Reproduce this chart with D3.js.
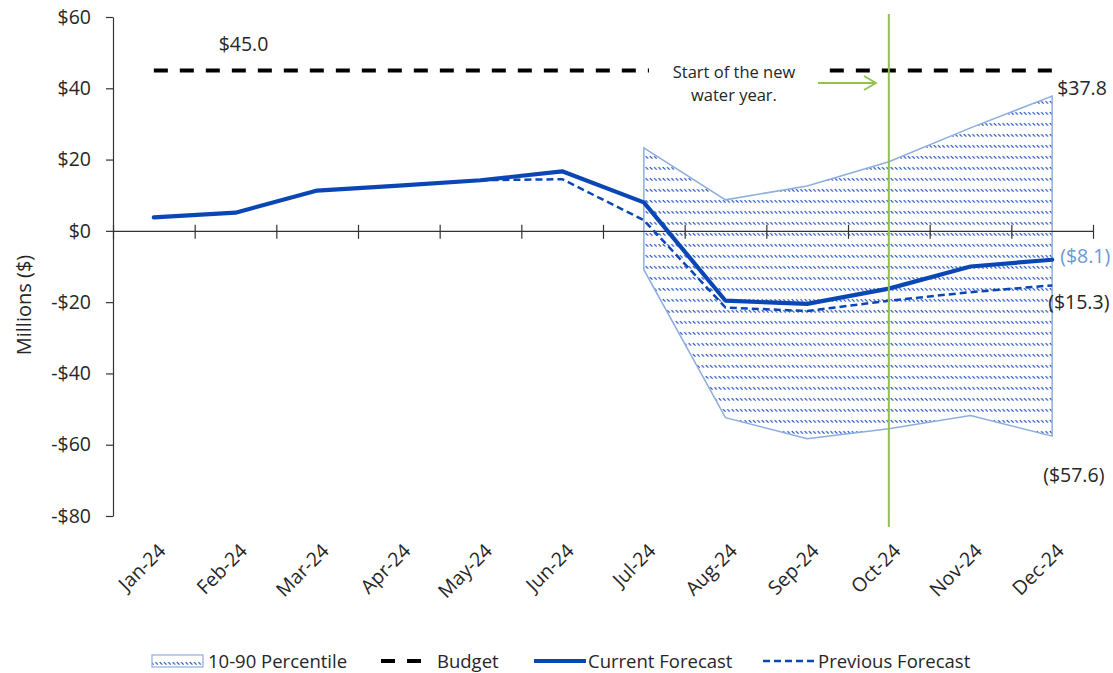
<!DOCTYPE html>
<html>
<head>
<meta charset="utf-8">
<script src="https://cdn.jsdelivr.net/npm/d3@7"></script>
<style>
  html, body { margin: 0; padding: 0; background: #fff; }
  svg text { font-family: "Open Sans", "Noto Sans", sans-serif; fill: #262626; }
</style>
</head>
<body>
<svg id="chart" width="1113" height="673"></svg>
<script>
// ---------------- data ----------------
const months = ["Jan-24","Feb-24","Mar-24","Apr-24","May-24","Jun-24","Jul-24","Aug-24","Sep-24","Oct-24","Nov-24","Dec-24"];
const currentForecast  = [3.8, 5.1, 11.3, 12.7, 14.2, 16.7, 8.0, -19.6, -20.5, -16.2, -10.0, -8.1];
const previousForecast = [3.8, 5.1, 11.3, 12.7, 14.2, 14.5, 3.0, -21.5, -22.5, -19.6, -17.2, -15.3];
const budget           = [45.0, 45.0, 45.0, 45.0, 45.0, 45.0, 45.0, 45.0, 45.0, 45.0, 45.0, 45.0];
const pct90            = [null, null, null, null, null, null, 23.3, 8.7, 12.6, 19.4, 28.9, 37.8];
const pct10            = [null, null, null, null, null, null, -10.9, -52.4, -58.3, -55.5, -51.8, -57.6];
const yTicks = [-80, -60, -40, -20, 0, 20, 40, 60];
const legendLabels = ["10-90 Percentile", "Budget", "Current Forecast", "Previous Forecast"];
const annotationLines = ["Start of the new", "water year."];
const yTitle = "Millions ($)";

// ---------------- layout ----------------
const pLeft = 113, pRight = 1093, pTop = 17, pBottom = 516;
const svg = d3.select("#chart");
const blue = "#0a47b5";
const bandStroke = "#8eaee0";
const green = "#92c051";
const fs = 19.5;

const x = d3.scalePoint().domain(months).range([pLeft, pRight]).padding(0.5);
const xb = d3.scaleLinear().domain([0, months.length]).range([pLeft, pRight]);
const y = d3.scaleLinear().domain([-80, 60]).range([pBottom, pTop]);
const fmt = v => v < 0 ? "-$" + (-v) : "$" + v;
const paren = v => v < 0 ? "($" + (-v).toFixed(1) + ")" : "$" + v.toFixed(1);

// hatch pattern
const defs = svg.append("defs");
const pat = defs.append("pattern").attr("id", "hatch").attr("patternUnits", "userSpaceOnUse")
  .attr("width", 4.3).attr("height", 11);
pat.append("line").attr("x1", 0.6).attr("y1", 2.2).attr("x2", 3.1).attr("y2", 4.7)
  .attr("stroke", "#1f52c0").attr("stroke-width", 1.2);

// percentile band
const bandData = months.map((m, i) => ({m, lo: pct10[i], hi: pct90[i]})).filter(d => d.lo !== null);
svg.append("path").datum(bandData)
  .attr("d", d3.area().x(d => x(d.m)).y0(d => y(d.lo)).y1(d => y(d.hi)))
  .attr("fill", "url(#hatch)").attr("stroke", bandStroke).attr("stroke-width", 1.5);

// y axis
const yAxis = svg.append("g").attr("transform", `translate(${pLeft},0)`)
  .call(d3.axisLeft(y).tickValues(yTicks).tickFormat(fmt).tickSize(7).tickSizeOuter(0).tickPadding(15));
yAxis.selectAll("path,line").attr("stroke", "#333").attr("stroke-width", 1.2);
yAxis.selectAll("text").attr("font-size", fs).style("fill", "#262626")
  .attr("font-family", "\"Open Sans\", \"Noto Sans\", sans-serif");

// x axis (line at zero, cross ticks at category boundaries)
const xAxis = svg.append("g").attr("transform", `translate(0,${y(0)})`)
  .call(d3.axisBottom(xb).tickValues(d3.range(months.length + 1)).tickSize(8).tickSizeOuter(0).tickFormat(""));
xAxis.selectAll("path,line").attr("stroke", "#333").attr("stroke-width", 1.2);
xAxis.selectAll(".tick line").attr("y1", -6);

// x labels at bottom
svg.append("g").selectAll("text").data(months).join("text")
  .attr("transform", d => `translate(${x(d) + 13},${pBottom + 36}) rotate(-45)`)
  .attr("text-anchor", "end").attr("font-size", fs).text(d => d);

// y title
svg.append("text").attr("transform", `translate(31,305) rotate(-90)`)
  .attr("text-anchor", "middle").attr("font-size", 20).text(yTitle);

// budget line
const line = d3.line().defined(d => d.v !== null).x(d => x(d.m)).y(d => y(d.v));
svg.append("path").datum(months.map((m, i) => ({m, v: budget[i]})))
  .attr("d", line).attr("fill", "none").attr("stroke", "#000").attr("stroke-width", 4)
  .attr("stroke-dasharray", "14,12");

// previous forecast
svg.append("path").datum(months.map((m, i) => ({m, v: previousForecast[i]})))
  .attr("d", line).attr("fill", "none").attr("stroke", blue).attr("stroke-width", 2.5)
  .attr("stroke-dasharray", "7,4");

// current forecast
svg.append("path").datum(months.map((m, i) => ({m, v: currentForecast[i]})))
  .attr("d", line).attr("fill", "none").attr("stroke", blue).attr("stroke-width", 4.2)
  .attr("stroke-linejoin", "round").attr("stroke-linecap", "round");

// annotation box
const octX = x("Oct-24");
svg.append("rect").attr("x", 649).attr("y", 58).attr("width", 169).attr("height", 52).attr("fill", "#fff");
svg.append("g").selectAll("text").data(annotationLines).join("text")
  .attr("x", 734).attr("y", (d, i) => 78 + i * 23).attr("text-anchor", "middle")
  .attr("font-size", 16.5).text(d => d);
// arrow
svg.append("line").attr("x1", 818).attr("y1", 83).attr("x2", 875).attr("y2", 83)
  .attr("stroke", green).attr("stroke-width", 1.8);
svg.append("path").attr("d", "M864,76 L876,83 L864,90").attr("fill", "none")
  .attr("stroke", green).attr("stroke-width", 1.8);
// green vertical line
svg.append("line").attr("x1", octX).attr("x2", octX).attr("y1", 14).attr("y2", 527)
  .attr("stroke", green).attr("stroke-width", 2);

// data labels
const last = months.length - 1, dx = x(months[last]);
svg.append("text").attr("x", x("Feb-24") + 8).attr("y", y(budget[1]) - 19)
  .attr("text-anchor", "middle").attr("font-size", fs).text(paren(budget[1]));
svg.append("text").attr("x", dx + 5).attr("y", y(pct90[last]) - 1)
  .attr("font-size", fs).text(paren(pct90[last]));
svg.append("text").attr("x", dx + 8).attr("y", y(currentForecast[last]) + 3)
  .attr("font-size", fs).style("fill", "#6a98d6").text(paren(currentForecast[last]));
svg.append("text").attr("x", dx - 4).attr("y", y(previousForecast[last]) + 24)
  .attr("font-size", fs).text(paren(previousForecast[last]));
svg.append("text").attr("x", dx - 9).attr("y", y(pct10[last]) + 46)
  .attr("font-size", fs).text(paren(pct10[last]));

// legend
const ly = 661;
const lg = svg.append("g");
lg.append("rect").attr("x", 152).attr("y", ly - 6).attr("width", 51).attr("height", 12)
  .attr("fill", "url(#hatch)").attr("stroke", bandStroke).attr("stroke-width", 1.2);
lg.append("line").attr("x1", 381).attr("x2", 421).attr("y1", ly).attr("y2", ly)
  .attr("stroke", "#000").attr("stroke-width", 4).attr("stroke-dasharray", "14,12");
lg.append("line").attr("x1", 534).attr("x2", 586).attr("y1", ly).attr("y2", ly)
  .attr("stroke", blue).attr("stroke-width", 4.2);
lg.append("line").attr("x1", 763).attr("x2", 815).attr("y1", ly).attr("y2", ly)
  .attr("stroke", blue).attr("stroke-width", 2.5).attr("stroke-dasharray", "7,4");
const lx = [208, 437, 588, 818];
lg.selectAll("text.lab").data(legendLabels).join("text").attr("class", "lab")
  .attr("x", (d, i) => lx[i]).attr("y", ly + 6.5).attr("font-size", 18.5).text(d => d);
</script>
</body>
</html>
